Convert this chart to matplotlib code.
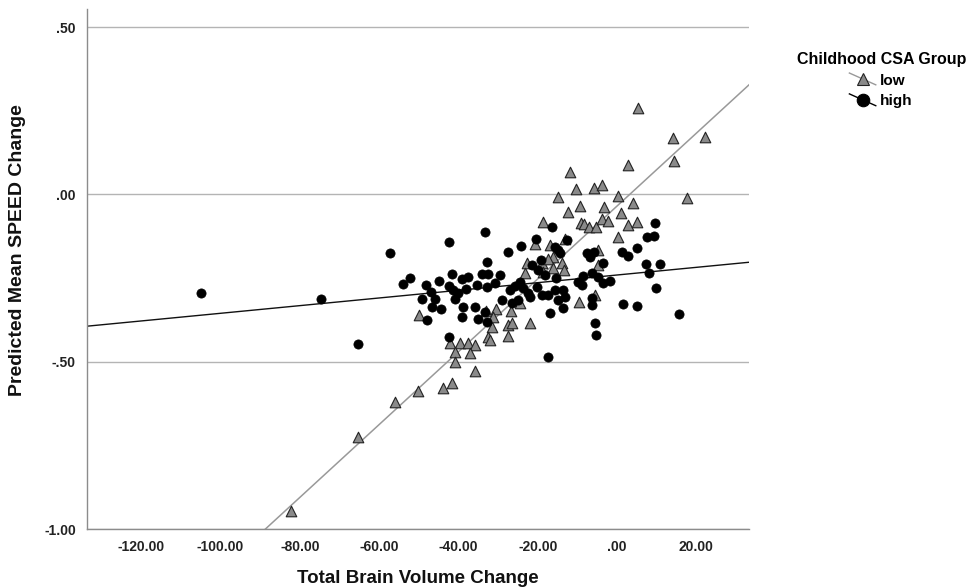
"""
Scatter of predicted SPEED change vs total brain volume change,
split by childhood CSA group, with a linear fit line per group.
"""
import matplotlib
matplotlib.use("Agg")
import matplotlib.pyplot as plt
from matplotlib.legend_handler import HandlerBase
from matplotlib.lines import Line2D
from matplotlib.ticker import FuncFormatter, MultipleLocator

# ---------------------------------------------------------------------------
# Data
# ---------------------------------------------------------------------------
low_x = [5.3, 14.1, 22.2, 14.4, 2.8, -11.9, -10.3, -5.8, -3.8, -14.9, 0.3, 17.7,
         -9.3, -3.3, 4.0, -12.4, 1.0, -18.7, -9.1, -8.3, -7.1, -5.3, -3.8, -2.3,
         2.8, 5.0, 0.3, -20.7, -16.9, -13.1, -4.8, -22.7, -18.9, -13.9, -16.1,
         -23.2, -18.7, -13.4, -4.8, -9.6, -5.5, -17.4, -16.1, -21.9, -30.5, -33.0,
         -26.7, -24.5, -31.5, -27.5, -26.5, -32.5, -32.0, -27.5, -42.1, -39.6,
         -37.6, -35.8, -31.3, -40.9, -37.1, -49.9, -82.2, -65.3, -56.0, -50.2,
         -43.9, -41.6, -40.9, -35.8]
low_y = [0.257, 0.167, 0.170, 0.099, 0.087, 0.066, 0.015, 0.018, 0.027, -0.009,
         -0.006, -0.012, -0.036, -0.039, -0.027, -0.054, -0.057, -0.084, -0.087,
         -0.090, -0.099, -0.099, -0.075, -0.081, -0.093, -0.084, -0.128, -0.149,
         -0.152, -0.134, -0.167, -0.206, -0.206, -0.206, -0.188, -0.236, -0.233,
         -0.227, -0.212, -0.322, -0.301, -0.194, -0.221, -0.385, -0.343, -0.349,
         -0.349, -0.325, -0.397, -0.391, -0.385, -0.427, -0.436, -0.424, -0.445,
         -0.445, -0.445, -0.451, -0.367, -0.472, -0.475, -0.361, -0.946, -0.725,
         -0.621, -0.588, -0.579, -0.564, -0.502, -0.528]

high_x = [-104.9, -74.7, -65.3, -57.3, -54.0, -52.2, -48.2, -44.9, -49.2, -46.9,
          -45.9, -46.7, -44.4, -47.9, -42.4, -33.3, -32.8, -41.6, -39.1, -37.6,
          -42.4, -41.4, -40.1, -38.1, -35.3, -32.8, -30.8, -40.9, -38.8, -35.8,
          -33.3, -39.1, -35.1, -32.8, -42.4, -34.0, -32.5, -27.5, -24.2, -20.4,
          -16.4, -15.6, -14.9, -21.4, -27.0, -25.7, -24.5, -23.7, -22.4, -20.2,
          -18.9, -17.4, -15.6, -14.9, -16.9, -29.0, -26.5, -25.0, -21.9, -12.6,
          -14.4, -7.6, -6.8, -5.8, -3.5, 1.3, 2.8, 5.0, 7.3, 8.1, 10.8, 7.6, 9.3,
          9.6, -8.6, -6.3, -4.8, -9.8, -8.8, -3.5, -1.8, -13.6, -13.1, -13.6,
          -6.3, -6.3, 1.5, 5.0, 9.8, 15.6, -5.5, -5.3, -17.4, -19.2, -18.2, -19.9,
          -15.4, -29.5]
high_y = [-0.296, -0.313, -0.448, -0.176, -0.269, -0.251, -0.272, -0.260, -0.313,
          -0.293, -0.313, -0.337, -0.343, -0.376, -0.143, -0.113, -0.203, -0.239,
          -0.254, -0.248, -0.275, -0.287, -0.296, -0.284, -0.272, -0.278, -0.266,
          -0.313, -0.337, -0.337, -0.352, -0.367, -0.373, -0.382, -0.427, -0.239,
          -0.239, -0.173, -0.155, -0.134, -0.099, -0.158, -0.167, -0.212, -0.287,
          -0.275, -0.263, -0.281, -0.296, -0.278, -0.301, -0.301, -0.287, -0.316,
          -0.355, -0.316, -0.325, -0.316, -0.307, -0.137, -0.176, -0.176, -0.188,
          -0.173, -0.206, -0.173, -0.185, -0.161, -0.209, -0.236, -0.209, -0.128,
          -0.125, -0.087, -0.245, -0.236, -0.248, -0.263, -0.272, -0.266, -0.260,
          -0.287, -0.307, -0.340, -0.310, -0.331, -0.328, -0.334, -0.281, -0.358,
          -0.385, -0.421, -0.487, -0.197, -0.242, -0.227, -0.251, -0.242]

# fit lines: (intercept, slope)
low_fit = (-0.035, 0.01088)
high_fit = (-0.241, 0.001144)

group_labels = ["low", "high"]

LOW_COLOR = "#8a8a8a"
HIGH_COLOR = "#000000"


class DiagHandler(HandlerBase):
    """SPSS-style legend key: marker with a short diagonal line through it."""

    def create_artists(self, legend, orig_handle, xdescent, ydescent,
                       width, height, fontsize, trans):
        cx, cy = width * 0.5 - xdescent, height / 2 - ydescent
        line = Line2D([cx - 10, cx + 9], [cy + 4.5, cy - 4],
                      color=orig_handle.get_color(), lw=1.0, transform=trans)
        mark = Line2D([cx], [cy], marker=orig_handle.get_marker(),
                      markersize=orig_handle.get_markersize(),
                      markerfacecolor=orig_handle.get_markerfacecolor(),
                      markeredgecolor=orig_handle.get_markeredgecolor(),
                      markeredgewidth=0.8, linestyle="none", transform=trans)
        return [line, mark]


def fmt(v, _pos=None):
    s = f"{v:.2f}"
    if s.startswith("0."):
        s = s[1:]
    elif s.startswith("-0."):
        s = "-" + s[2:]
    return s


fig = plt.figure(figsize=(9.71, 5.88), dpi=100)
ax = fig.add_axes((0.0896, 0.1003, 0.6818, 0.8845))

ax.scatter(low_x, low_y, marker="^", s=58, facecolor=LOW_COLOR,
           edgecolor="#222222", linewidth=0.8, zorder=3)
ax.scatter(high_x, high_y, marker="o", s=44, facecolor=HIGH_COLOR,
           edgecolor=HIGH_COLOR, linewidth=0.5, zorder=3)

ax.axline((0, low_fit[0]), slope=low_fit[1], color="#999999", lw=1.1, zorder=2)
ax.axline((0, high_fit[0]), slope=high_fit[1], color="#111111", lw=1.0, zorder=2)

ax.set_xlim(-133.7, 33.3)
ax.set_ylim(-1.0, 0.554)
ax.xaxis.set_major_locator(MultipleLocator(20))
ax.yaxis.set_major_locator(MultipleLocator(0.5))
ax.xaxis.set_major_formatter(FuncFormatter(fmt))
ax.yaxis.set_major_formatter(FuncFormatter(fmt))

ax.yaxis.grid(True, color="#b4b4b4", lw=1.0)
ax.set_axisbelow(True)
for side in ("top", "right"):
    ax.spines[side].set_visible(False)
for side in ("left", "bottom"):
    ax.spines[side].set_color("#8c8c8c")
    ax.spines[side].set_linewidth(1.0)
ax.tick_params(length=0, pad=8, labelsize=10)
for lab in ax.get_xticklabels() + ax.get_yticklabels():
    lab.set_fontweight("bold")
    lab.set_family("Liberation Sans")
    lab.set_color("#222222")

ax.set_xlabel("Total Brain Volume Change", fontsize=13.5, fontweight="bold",
              family="Liberation Sans", color="#111111")
ax.xaxis.set_label_coords(0.5, -0.078)
ax.set_ylabel("Predicted Mean SPEED Change", fontsize=14, fontweight="bold",
              family="Liberation Sans", color="#111111")
ax.yaxis.set_label_coords(-0.092, 0.537)

handles = [
    Line2D([], [], marker="^", color="#999999", markersize=9,
           markerfacecolor=LOW_COLOR, markeredgecolor="#222222"),
    Line2D([], [], marker="o", color=HIGH_COLOR, markersize=9,
           markerfacecolor=HIGH_COLOR, markeredgecolor=HIGH_COLOR),
]
leg = fig.legend(handles, group_labels, title="Childhood CSA Group",
                 loc="upper left", bbox_to_anchor=(0.821, 0.912),
                 frameon=False, handler_map={Line2D: DiagHandler()},
                 handlelength=1.6, handletextpad=0.3, labelspacing=0.45,
                 borderaxespad=0, borderpad=0,
                 prop={"family": "Liberation Sans", "weight": "bold", "size": 11})
leg.get_title().set_fontweight("bold")
leg.get_title().set_fontsize(11.5)
leg.get_title().set_family("Liberation Sans")

fig.savefig("out.png", dpi=100, facecolor="white")
